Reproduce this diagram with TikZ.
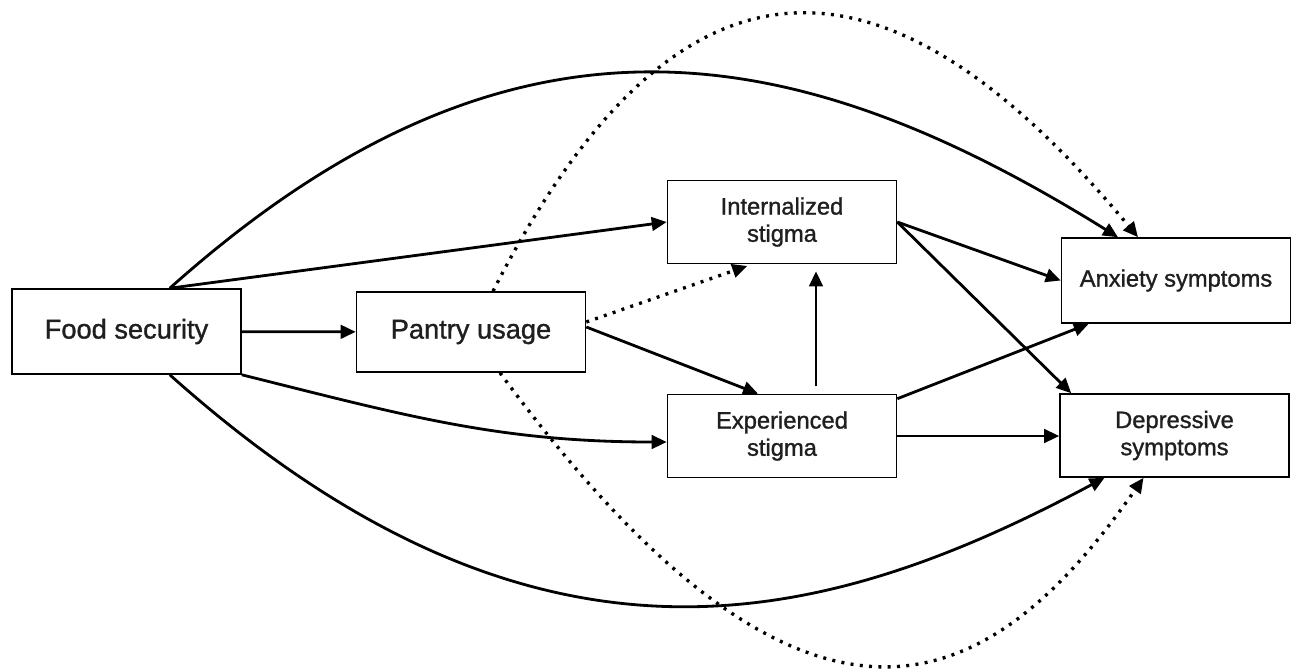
\documentclass[tikz,border=0pt]{standalone}
\usepackage{fontspec}
\setmainfont{Liberation Sans}[FakeBold=1.2]
\usetikzlibrary{arrows.meta}
\begin{document}
\begin{tikzpicture}[x=0.2mm,y=-0.2mm,
	box/.style={draw, rectangle, line width=0.9pt, inner sep=0pt, align=center, minimum width=45.8mm, minimum height=16.6mm, font=\fontsize{13.5}{15.5}\selectfont, text=black!88},
	bigbox/.style={box, font=\fontsize{15.5}{17}\selectfont},
	arr/.style={line width=1.6pt, -{Triangle[length=3mm,width=2.7mm]}},
	dots/.style={arr, line width=1.9pt, dash pattern=on 1.7pt off 3.6pt}]
		\useasboundingbox (0,0) rectangle (1292,670);
		\node (box1) [bigbox, minimum height=17mm] at (126.5,331.5) {Food security};
		\node (box2) [bigbox, minimum height=16mm] at (471,332) {Pantry usage};
		\node (box3) [box] at (782,222) {Internalized\\stigma};
		\node (box4) [box] at (782,436) {Experienced\\stigma};
		\node (box5) [box, minimum height=17mm] at (1176,280.5) {Anxiety symptoms};
		\node (box6) [box] at (1174.5,435.5) {Depressive\\symptoms};

		% Arrows
		\draw[arr] (box1) -- (box2);
		\draw[arr] (box1.45) -- (box3.west);
		\draw[arr] (box1.south east) to[out=-14,in=180] ([yshift=-1.2mm]box4.west);
		\draw[arr] (box1.45) .. controls (510,-16) and (793,35) .. ([xshift=-11.6mm]box5.north);
		\draw[arr] (box1.-45) .. controls (537,703) and (823,628) .. ([xshift=-14mm]box6.south);
		\draw[dots] ([xshift=4.4mm]box2.north) .. controls (703,-122) and (927,-16) .. ([xshift=-7.6mm]box5.north);
		\draw[dots] ([xshift=5.8mm]box2.south) .. controls (816,802) and (996,689) .. ([xshift=-6.2mm]box6.south);
		\draw[dots, shorten >=1mm] ([yshift=2mm]box2.east) -- ([xshift=-6mm]box3.south);
		\draw[arr] ([yshift=1mm]box2.east) -- ([xshift=-4.8mm]box4.north);
		\draw[arr, shorten <=1.5mm, shorten >=1.4mm] ([xshift=6.8mm]box4.north) -- ([xshift=6.8mm]box3.south);
		\draw[arr] (box3.east) -- (box5.west);
		\draw[arr] (box3.east) -- ([xshift=2.4mm]box6.north west);
		\draw[arr] ([yshift=-1mm]box4.north east) -- ([xshift=5.6mm]box5.south west);
		\draw[arr] (box4.east) -- (box4.east -| box6.west);
	\end{tikzpicture}
\end{document}
